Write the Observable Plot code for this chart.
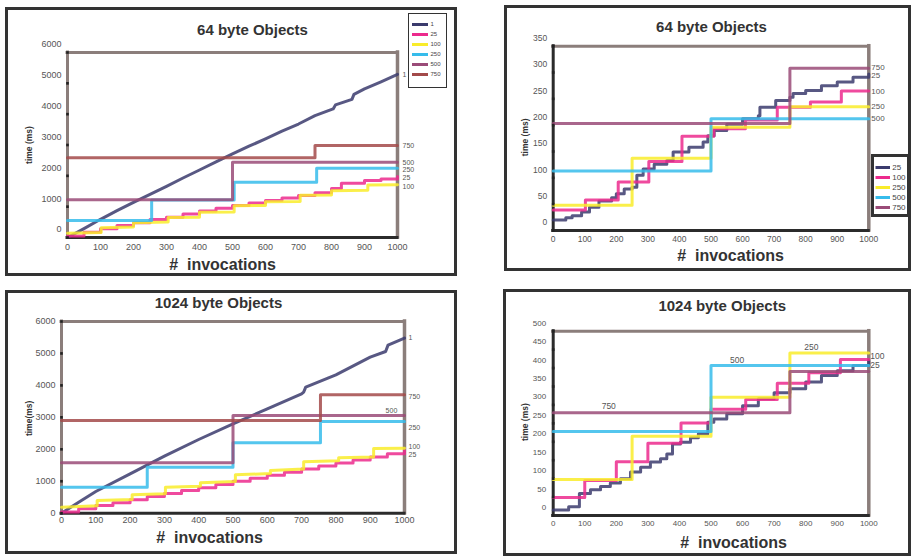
<!DOCTYPE html>
<html><head><meta charset="utf-8">
<script src="https://cdn.jsdelivr.net/npm/d3@7"></script>
<script src="https://cdn.jsdelivr.net/npm/@observablehq/plot@0.6"></script>
<style>
body{margin:0;background:#fff;}
#wrap{position:relative;width:913px;height:557px;overflow:hidden;background:#fff;}
.box{position:absolute;box-sizing:border-box;border:3px solid #333;pointer-events:none;}
.leg{position:absolute;box-sizing:border-box;background:#fff;}
.pl{position:absolute;}
</style></head><body><div id="wrap"></div>
<script>
// ---------- ticks ----------
const xTicks = [0,100,200,300,400,500,600,700,800,900,1000];
const yTicks6000 = [0,1000,2000,3000,4000,5000,6000];
const yTicks350 = [0,50,100,150,200,250,300,350];
const yTicks500 = [0,50,100,150,200,250,300,350,400,450,500];

// ---------- series names ----------
const leftNames = ["1","25","100","250","500","750"];
const rightNames = ["25","100","250","500","750"];

// ---------- 64 byte objects (left) : [invocations, time] ----------
const a64_1 = [[0,0],[50,290],[100,590],[150,870],[200,1140],[250,1400],[300,1660],[350,1930],[400,2190],[450,2450],[500,2710],[550,2960],[600,3200],[650,3450],[700,3680],[750,3950],[805,4170],[812,4300],[862,4480],[868,4640],[900,4820],[950,5050],[1000,5290]];
const a64_25 = [[0,50],[50,170],[100,280],[150,390],[200,480],[250,580],[300,660],[350,760],[400,860],[450,950],[500,1040],[550,1120],[600,1200],[650,1280],[700,1360],[750,1450],[800,1590],[830,1760],[900,1850],[950,1900],[1000,1980]];
const a64_100 = [[0,140],[102,160],[102,320],[200,340],[200,480],[305,500],[305,650],[400,660],[400,820],[505,830],[505,1030],[600,1040],[600,1160],[705,1170],[705,1370],[800,1380],[800,1520],[910,1530],[910,1700],[1000,1710]];
const a64_250 = [[0,551],[255,1220],[505,1794],[755,2248],[1000,2248]];
const a64_500 = [[0,1225],[500,2443],[1000,2443]];
const a64_750 = [[0,2584],[750,2984],[1000,2984]];
const a64_endLabels = [["1",5290],["750",2984],["500",2423],["250",2195],["25",1923],["100",1654]];

// ---------- 64 byte objects (right) ----------
const b64_25 = [[0,20],[40,24],[60,28],[90,35],[115,44],[145,56],[185,62],[200,70],[225,79],[250,82],[265,105],[285,117],[320,126],[360,133],[380,149],[430,158],[475,168],[490,180],[510,190],[550,202],[600,212],[650,218],[655,234],[705,247],[750,253],[760,260],[800,266],[850,275],[900,282],[950,291],[1000,297]];
const b64_100 = [[0,39],[102,58],[206,92],[303,131],[408,179],[509,193],[609,210],[710,234],[815,244],[913,265],[1000,265]];
const b64_250 = [[0,48],[250,137],[500,196],[750,235],[1000,235]];
const b64_500 = [[0,113],[500,212],[1000,212]];
const b64_750 = [[0,203],[750,308],[1000,308]];
const b64_endLabels = [["750",309],["25",294],["100",264],["250",235],["500",213]];

// ---------- 1024 byte objects (left) ----------
const a1k_1 = [[0,0],[50,344],[100,679],[200,1232],[300,1784],[400,2307],[500,2797],[600,3267],[700,3736],[706,3790],[712,3944],[800,4331],[900,4883],[945,5060],[952,5260],[1000,5478]];
const a1k_25 = [[0,40],[50,140],[100,240],[150,330],[200,420],[250,520],[300,620],[350,710],[400,800],[450,900],[500,1000],[550,1095],[600,1190],[650,1285],[700,1380],[750,1475],[800,1570],[850,1665],[900,1760],[950,1860],[1000,1960]];
const a1k_100 = [[0,188],[104,230],[104,397],[206,430],[206,575],[303,610],[303,814],[405,840],[405,950],[507,990],[507,1202],[609,1240],[609,1336],[706,1380],[706,1608],[808,1640],[808,1733],[910,1760],[910,2025],[1000,2030]];
const a1k_250 = [[0,814],[250,1440],[500,2203],[755,2870],[1000,2870]];
const a1k_500 = [[0,1577],[500,3058],[1000,3058]];
const a1k_750 = [[0,2902],[755,3706],[1000,3706]];
const a1k_endLabels = [["1",5490],["750",3653],["250",2672],["100",2088],["25",1837]];
const a1k_innerLabels = [["500",962,3215]];

// ---------- 1024 byte objects (right) ----------
const b1k_25 = [[0,15],[49,24],[83,60],[118,70],[150,79],[181,88],[213,100],[245,118],[277,131],[308,145],[340,154],[360,167],[378,194],[403,199],[435,211],[460,222],[490,253],[509,262],[550,276],[600,298],[650,317],[700,333],[750,344],[800,362],[850,380],[900,393],[950,407],[1000,420]];
const b1k_100 = [[0,49],[100,95],[200,146],[300,196],[405,251],[500,288],[610,315],[710,359],[810,387],[910,423],[1000,423]];
const b1k_250 = [[0,98],[250,215],[500,321],[750,441],[1000,441]];
const b1k_500 = [[0,228],[500,407],[1000,407]];
const b1k_750 = [[0,279],[750,391],[1000,391]];
const b1k_endLabels = [["100",431],["25",407]];
const b1k_innerLabels = [["750",176,296],["500",583,420],["250",818,457]];

// ---------- styles ----------
const FONT = "'Liberation Sans', Arial, Helvetica, sans-serif";
const NAVY="#3b3b6d", MAG="#ec2a8d", YEL="#f9ec2a", CYAN="#36bceb", PLUM="#9a4b78", BROWN="#a34a4a";
const FRAMEC="#8b7e7b", DARK="#2b2b2b";
const leftColors = [NAVY,MAG,YEL,CYAN,PLUM,BROWN];
const rightColors = [NAVY,MAG,YEL,CYAN,PLUM];
const plain = d3.format("d");

const wrap = document.getElementById("wrap");

function drawPanel(c){
  const [bx,by,bw,bh] = c.box;
  const [fl,fr,ft,fb] = c.frame;
  const marks = [
    Plot.ruleY([c.yMax],{stroke:FRAMEC,strokeWidth:3,strokeLinecap:"square"}),
    Plot.ruleX([1000],{stroke:FRAMEC,strokeWidth:3.5,strokeLinecap:"square"}),
    Plot.ruleX([0],{stroke:c.leftDark?DARK:FRAMEC,strokeWidth:3,strokeLinecap:"square"}),
    Plot.ruleY([0],{stroke:DARK,strokeWidth:3,strokeLinecap:"square"}),
  ];
  c.series.forEach(s=>{
    marks.push(Plot.line(s.data,{x:d=>d[0],y:d=>d[1],stroke:s.color,strokeWidth:3,strokeOpacity:0.85,curve:s.curve}));
  });
  marks.push(Plot.dot(c.yTicks,{x:0,y:d=>d,r:1.5,symbol:"square",fill:"#222"}));
  marks.push(Plot.axisY(c.yTicks,{tickSize:0,tickPadding:c.yPad,dy:c.yDy,fontSize:c.tickFont,fill:"#555",label:null,tickFormat:plain}));
  marks.push(Plot.axisX(xTicks,{tickSize:0,tickPadding:c.xPad,fontSize:c.tickFont,fill:"#555",label:null,tickFormat:plain}));
  marks.push(Plot.text(c.endLabels,{x:1000,y:d=>d[1],text:d=>d[0],dx:c.labelDx,textAnchor:"start",fontSize:c.labelFont,fill:"#555"}));
  if(c.innerLabels) marks.push(Plot.text(c.innerLabels,{x:d=>d[1],y:d=>d[2],text:d=>d[0],textAnchor:"middle",fontSize:c.labelFont,fill:"#555"}));
  marks.push(Plot.text([c.title],{text:d=>d,frameAnchor:"top",lineAnchor:"middle",textAnchor:"middle",dx:c.titleOff[0],dy:c.titleOff[1],fontSize:15,fontWeight:"bold",fill:"#333"}));
  marks.push(Plot.text(["#\u00A0 invocations"],{text:d=>d,frameAnchor:"bottom",lineAnchor:"middle",textAnchor:"middle",dx:c.xLabOff[0],dy:c.xLabOff[1],fontSize:16,fontWeight:"bold",fill:"#333"}));
  marks.push(Plot.text([c.yLabel],{text:d=>d,frameAnchor:"left",lineAnchor:"middle",textAnchor:"middle",rotate:-90,dx:c.yLabOff[0],dy:c.yLabOff[1],fontSize:8.5,fontWeight:"bold",fill:"#333"}));

  const svg = Plot.plot({
    width:bw,height:bh,
    marginLeft:fl-bx,marginRight:bx+bw-fr,marginTop:ft-by,marginBottom:by+bh-fb,
    x:{domain:[0,1000]},y:{domain:[0,c.yMax]},
    style:{fontFamily:FONT,background:"transparent",overflow:"visible"},
    marks
  });
  svg.classList.add("pl");
  svg.style.left = bx+"px"; svg.style.top = by+"px";
  wrap.appendChild(svg);
  const b = document.createElement("div");
  b.className="box";
  Object.assign(b.style,{left:bx+"px",top:by+"px",width:bw+"px",height:bh+"px"});
  wrap.appendChild(b);
}

function drawLegend(names,colors,l){
  const d = document.createElement("div");
  d.className="leg";
  Object.assign(d.style,{left:l.x+"px",top:l.y+"px",width:l.w+"px",height:l.h+"px",border:l.border+"px solid #333"});
  const iw = l.w-2*l.border, ih = l.h-2*l.border;
  const p = Plot.plot({
    width:iw,height:ih,margin:0,axis:null,
    x:{domain:[0,1],range:l.xr},
    y:{type:"point",domain:names,range:l.yr},
    color:{type:"identity"},
    style:{fontFamily:FONT,background:"transparent",overflow:"visible"},
    marks:[
      Plot.ruleY(names,{y:d=>d,x1:0,x2:1,stroke:(d,i)=>colors[i],strokeWidth:3}),
      Plot.text(names,{y:d=>d,x:1,dx:l.gap,text:d=>d,textAnchor:"start",fontSize:l.font,fill:"#444"})
    ]
  });
  d.appendChild(p);
  wrap.appendChild(d);
}

// top-left
drawPanel({
  box:[5,7,452,269], frame:[67,397,52,237], yMax:6000, yTicks:yTicks6000,
  yPad:6, yDy:-8, xPad:6, tickFont:9, leftDark:false,
  series:[
    {data:a64_1,color:NAVY,curve:"linear"},
    {data:a64_25,color:MAG,curve:"step-after"},
    {data:a64_100,color:YEL,curve:"linear"},
    {data:a64_250,color:CYAN,curve:"step-after"},
    {data:a64_500,color:PLUM,curve:"step-after"},
    {data:a64_750,color:BROWN,curve:"step-after"}
  ],
  endLabels:a64_endLabels, labelDx:5, labelFont:7,
  title:"64 byte Objects", titleOff:[20,-22], xLabOff:[-10,27], yLabel:"time (ms)", yLabOff:[-38,0]
});
// top-right
drawPanel({
  box:[504,5,407,266], frame:[552.7,868.3,45.7,230], yMax:350, yTicks:yTicks350,
  yPad:6, yDy:-8, xPad:5, tickFont:8.5, leftDark:true,
  series:[
    {data:b64_25,color:NAVY,curve:"step-after"},
    {data:b64_100,color:MAG,curve:"step-after"},
    {data:b64_250,color:YEL,curve:"step-after"},
    {data:b64_500,color:CYAN,curve:"step-after"},
    {data:b64_750,color:PLUM,curve:"step-after"}
  ],
  endLabels:b64_endLabels, labelDx:2.5, labelFont:8,
  title:"64 byte Objects", titleOff:[0.5,-19], xLabOff:[19.5,25], yLabel:"time (ms)", yLabOff:[-28,-1]
});
// bottom-left
drawPanel({
  box:[5,290,452,264], frame:[61,404,321,512.7], yMax:6000, yTicks:yTicks6000,
  yPad:6, yDy:0, xPad:3, tickFont:9, leftDark:false,
  series:[
    {data:a1k_1,color:NAVY,curve:"linear"},
    {data:a1k_25,color:MAG,curve:"step-after"},
    {data:a1k_100,color:YEL,curve:"linear"},
    {data:a1k_250,color:CYAN,curve:"step-after"},
    {data:a1k_500,color:PLUM,curve:"step-after"},
    {data:a1k_750,color:BROWN,curve:"step-after"}
  ],
  endLabels:a1k_endLabels, innerLabels:a1k_innerLabels, labelDx:4, labelFont:7,
  title:"1024 byte Objects", titleOff:[-14.5,-18.7], xLabOff:[-23.5,24.6], yLabel:"time(ms)", yLabOff:[-32,1]
});
// bottom-right
drawPanel({
  box:[503,289,408,267], frame:[552.7,868.3,330.7,515], yMax:500, yTicks:yTicks500,
  yPad:7, yDy:-8, xPad:5, tickFont:8, leftDark:true,
  series:[
    {data:b1k_25,color:NAVY,curve:"step-after"},
    {data:b1k_100,color:MAG,curve:"step-after"},
    {data:b1k_250,color:YEL,curve:"step-after"},
    {data:b1k_500,color:CYAN,curve:"step-after"},
    {data:b1k_750,color:PLUM,curve:"step-after"}
  ],
  endLabels:b1k_endLabels, innerLabels:b1k_innerLabels, labelDx:1.5, labelFont:8.5,
  title:"1024 byte Objects", titleOff:[11.2,-25], xLabOff:[22.5,27], yLabel:"time (ms)", yLabOff:[-28.4,-1.2]
});

drawLegend(leftNames,leftColors,{x:408,y:13,w:39,h:75,border:1,xr:[3,19],yr:[4,66],gap:2,font:6});
drawLegend(rightNames,rightColors,{x:871,y:154,w:39,h:63,border:3,xr:[1.5,16],yr:[4,55],gap:1.7,font:8});
</script></body></html>
